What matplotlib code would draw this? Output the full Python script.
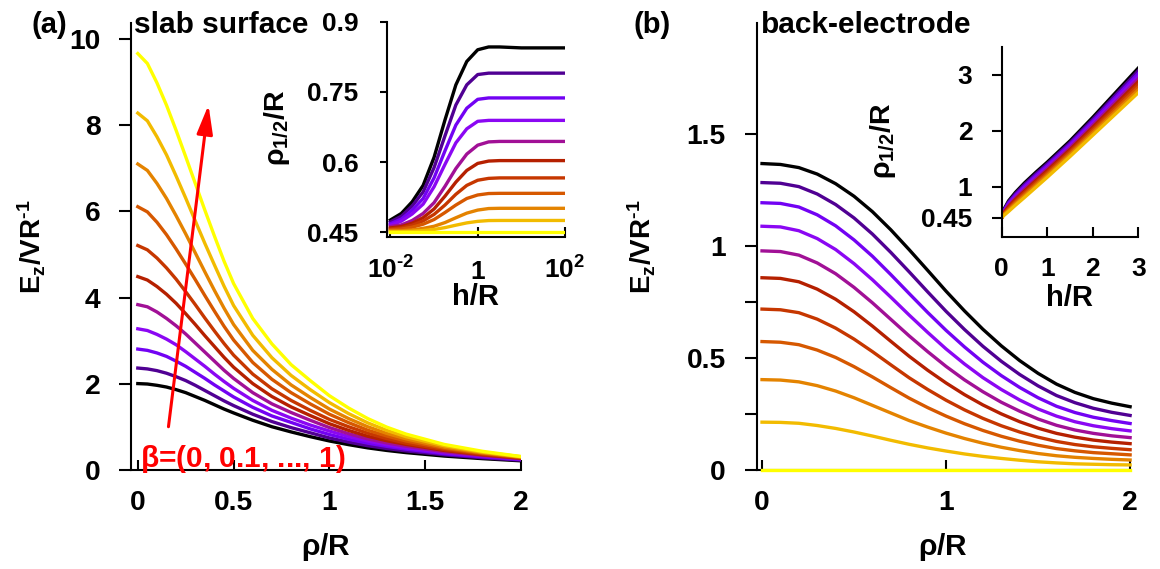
import matplotlib
matplotlib.use("Agg")
import matplotlib.pyplot as plt

plt.rcParams.update({
    "font.family": ["Liberation Sans", "DejaVu Sans"],
    "font.weight": "bold",
    "mathtext.fontset": "custom",
    "mathtext.rm": "Liberation Sans",
    "mathtext.it": "Liberation Sans",
    "mathtext.bf": "Liberation Sans:bold",
})

betas = [0.0, 0.1, 0.2, 0.3, 0.4, 0.5, 0.6, 0.7, 0.8, 0.9, 1.0]

# (a) field at the slab surface
rho_a = [0, 0.05, 0.1, 0.15, 0.2, 0.25, 0.3, 0.35, 0.4, 0.45, 0.5, 0.6, 0.7,
         0.8, 0.9, 1.0, 1.1, 1.2, 1.3, 1.4, 1.6, 1.8, 2.0]
slab_b00 = [2.01, 2.00, 1.97, 1.93, 1.87, 1.80, 1.71, 1.62, 1.52, 1.42, 1.33, 1.16, 1.01,
            0.89, 0.78, 0.68, 0.595, 0.52, 0.46, 0.41, 0.33, 0.27, 0.22]
slab_b01 = [2.37, 2.35, 2.31, 2.25, 2.17, 2.08, 1.97, 1.85, 1.73, 1.61, 1.50, 1.30, 1.13,
            0.99, 0.87, 0.75, 0.655, 0.57, 0.505, 0.45, 0.36, 0.29, 0.235]
slab_b02 = [2.81, 2.78, 2.72, 2.64, 2.53, 2.41, 2.27, 2.13, 1.98, 1.84, 1.70, 1.46, 1.26,
            1.11, 0.96, 0.83, 0.72, 0.63, 0.555, 0.49, 0.385, 0.31, 0.25]
slab_b03 = [3.28, 3.24, 3.15, 3.04, 2.91, 2.75, 2.58, 2.41, 2.23, 2.06, 1.90, 1.62, 1.39,
            1.21, 1.05, 0.91, 0.785, 0.68, 0.59, 0.52, 0.41, 0.33, 0.26]
slab_b04 = [3.84, 3.79, 3.67, 3.52, 3.35, 3.16, 2.95, 2.74, 2.53, 2.32, 2.13, 1.80, 1.54,
            1.34, 1.16, 0.99, 0.85, 0.73, 0.635, 0.56, 0.43, 0.34, 0.27]
slab_b05 = [4.49, 4.41, 4.26, 4.08, 3.87, 3.63, 3.38, 3.12, 2.87, 2.62, 2.39, 2.01, 1.71,
            1.47, 1.27, 1.08, 0.925, 0.79, 0.685, 0.60, 0.46, 0.36, 0.28]
slab_b06 = [5.21, 5.11, 4.92, 4.69, 4.43, 4.14, 3.84, 3.53, 3.23, 2.94, 2.67, 2.23, 1.89,
            1.62, 1.39, 1.18, 1.01, 0.86, 0.735, 0.63, 0.48, 0.37, 0.29]
slab_b07 = [6.11, 5.99, 5.75, 5.46, 5.13, 4.78, 4.42, 4.05, 3.69, 3.34, 3.02, 2.50, 2.11,
            1.80, 1.54, 1.30, 1.105, 0.93, 0.795, 0.68, 0.51, 0.39, 0.30]
slab_b08 = [7.10, 6.95, 6.65, 6.30, 5.90, 5.48, 5.04, 4.60, 4.17, 3.76, 3.38, 2.78, 2.34,
            1.98, 1.69, 1.42, 1.20, 1.01, 0.855, 0.73, 0.535, 0.405, 0.305]
slab_b09 = [8.28, 8.10, 7.73, 7.31, 6.82, 6.31, 5.78, 5.26, 4.76, 4.27, 3.82, 3.13, 2.61,
            2.20, 1.87, 1.57, 1.315, 1.10, 0.925, 0.78, 0.57, 0.42, 0.315]
slab_b10 = [9.66, 9.43, 8.98, 8.46, 7.88, 7.27, 6.65, 6.03, 5.43, 4.85, 4.33, 3.52, 2.93,
            2.45, 2.08, 1.73, 1.445, 1.20, 1.00, 0.84, 0.60, 0.44, 0.32]

# (a) inset: half-width vs h
h_a = [0.01, 0.0178, 0.0316, 0.0562, 0.1, 0.178, 0.316, 0.562, 1.0, 1.78, 3.16, 10.0, 31.6, 100.0]
half_slab_b00 = [0.476, 0.49, 0.515, 0.55, 0.61, 0.69, 0.765, 0.815, 0.84, 0.846, 0.846, 0.844, 0.844, 0.844]
half_slab_b01 = [0.472, 0.484, 0.506, 0.536, 0.588, 0.656, 0.722, 0.765, 0.787, 0.79, 0.79, 0.79, 0.79, 0.79]
half_slab_b02 = [0.468, 0.478, 0.497, 0.522, 0.566, 0.624, 0.679, 0.715, 0.734, 0.737, 0.737, 0.737, 0.737, 0.737]
half_slab_b03 = [0.465, 0.4735, 0.489, 0.51, 0.547, 0.595, 0.641, 0.671, 0.687, 0.689, 0.689, 0.689, 0.689, 0.689]
half_slab_b04 = [0.462, 0.4655, 0.475, 0.49, 0.513, 0.548, 0.586, 0.617, 0.636, 0.643, 0.644, 0.644, 0.644, 0.644]
half_slab_b05 = [0.459, 0.462, 0.469, 0.481, 0.4996, 0.527, 0.557, 0.582, 0.597, 0.602, 0.603, 0.603, 0.603, 0.603]
half_slab_b06 = [0.457, 0.459, 0.465, 0.474, 0.488, 0.508, 0.531, 0.55, 0.561, 0.565, 0.566, 0.566, 0.566, 0.566]
half_slab_b07 = [0.455, 0.4565, 0.4606, 0.467, 0.477, 0.492, 0.508, 0.522, 0.5295, 0.5326, 0.533, 0.533, 0.533, 0.533]
half_slab_b08 = [0.453, 0.453, 0.4548, 0.4581, 0.4626, 0.4705, 0.4808, 0.4907, 0.4972, 0.5005, 0.501, 0.501, 0.501, 0.501]
half_slab_b09 = [0.451, 0.451, 0.4519, 0.4535, 0.4558, 0.4597, 0.4649, 0.4698, 0.4731, 0.4748, 0.475, 0.475, 0.475, 0.475]
half_slab_b10 = [0.45, 0.45, 0.45, 0.45, 0.45, 0.45, 0.45, 0.45, 0.45, 0.45, 0.45, 0.45, 0.45, 0.45]

# (b) field at the back-electrode
rho_b = [0, 0.1, 0.2, 0.3, 0.4, 0.5, 0.6, 0.7, 0.8, 0.9, 1.0,
         1.1, 1.2, 1.3, 1.4, 1.5, 1.6, 1.7, 1.8, 1.9, 2.0]
back_b00 = [1.37, 1.366, 1.352, 1.323, 1.28, 1.224, 1.155, 1.074, 0.985, 0.893, 0.80,
            0.712, 0.63, 0.556, 0.49, 0.433, 0.385, 0.348, 0.32, 0.30, 0.284]
back_b01 = [1.285, 1.282, 1.267, 1.234, 1.187, 1.127, 1.055, 0.973, 0.886, 0.797, 0.71,
            0.629, 0.554, 0.487, 0.428, 0.377, 0.334, 0.302, 0.277, 0.259, 0.245]
back_b02 = [1.195, 1.192, 1.176, 1.141, 1.092, 1.029, 0.956, 0.874, 0.789, 0.705, 0.625,
            0.551, 0.483, 0.423, 0.37, 0.324, 0.286, 0.258, 0.237, 0.222, 0.209]
back_b03 = [1.09, 1.087, 1.07, 1.035, 0.986, 0.923, 0.851, 0.773, 0.693, 0.616, 0.542,
            0.475, 0.414, 0.361, 0.314, 0.274, 0.242, 0.217, 0.199, 0.186, 0.176]
back_b04 = [0.98, 0.977, 0.961, 0.926, 0.878, 0.817, 0.748, 0.674, 0.60, 0.53, 0.464,
            0.404, 0.351, 0.304, 0.264, 0.229, 0.201, 0.18, 0.165, 0.154, 0.146]
back_b05 = [0.86, 0.857, 0.842, 0.809, 0.764, 0.708, 0.644, 0.576, 0.509, 0.447, 0.39,
            0.338, 0.292, 0.252, 0.217, 0.188, 0.165, 0.148, 0.135, 0.126, 0.119]
back_b06 = [0.72, 0.717, 0.704, 0.675, 0.635, 0.586, 0.53, 0.471, 0.413, 0.361, 0.313,
            0.27, 0.232, 0.199, 0.171, 0.148, 0.129, 0.115, 0.105, 0.098, 0.092]
back_b07 = [0.575, 0.572, 0.561, 0.537, 0.504, 0.463, 0.417, 0.369, 0.322, 0.28, 0.242,
            0.208, 0.178, 0.152, 0.13, 0.112, 0.097, 0.087, 0.079, 0.074, 0.069]
back_b08 = [0.405, 0.403, 0.395, 0.378, 0.354, 0.324, 0.29, 0.256, 0.222, 0.193, 0.166,
            0.142, 0.121, 0.103, 0.088, 0.075, 0.065, 0.058, 0.053, 0.049, 0.046]
back_b09 = [0.215, 0.214, 0.21, 0.20, 0.187, 0.171, 0.153, 0.134, 0.116, 0.10, 0.086,
            0.073, 0.062, 0.053, 0.045, 0.038, 0.033, 0.029, 0.027, 0.025, 0.024]
back_b10 = [0, 0, 0, 0, 0, 0, 0, 0, 0, 0, 0, 0, 0, 0, 0, 0, 0, 0, 0, 0, 0]

# (b) inset: half-width vs h
h_b = [0, 0.05, 0.15, 0.3, 0.5, 0.75, 1.0, 1.5, 2.0, 2.5, 3.0]
half_back_b00 = [0.45, 0.60, 0.75, 0.90, 1.07, 1.26, 1.44, 1.82, 2.24, 2.68, 3.12]
half_back_b01 = [0.45, 0.588, 0.729, 0.874, 1.041, 1.23, 1.41, 1.789, 2.204, 2.638, 3.071]
half_back_b02 = [0.45, 0.576, 0.708, 0.849, 1.012, 1.20, 1.38, 1.758, 2.169, 2.596, 3.022]
half_back_b03 = [0.45, 0.563, 0.687, 0.823, 0.983, 1.17, 1.35, 1.727, 2.133, 2.553, 2.973]
half_back_b04 = [0.45, 0.551, 0.666, 0.798, 0.954, 1.14, 1.32, 1.696, 2.098, 2.511, 2.925]
half_back_b05 = [0.45, 0.539, 0.644, 0.772, 0.925, 1.11, 1.29, 1.664, 2.062, 2.469, 2.876]
half_back_b06 = [0.45, 0.527, 0.623, 0.747, 0.897, 1.08, 1.26, 1.633, 2.027, 2.427, 2.827]
half_back_b07 = [0.45, 0.514, 0.602, 0.721, 0.868, 1.05, 1.23, 1.602, 1.991, 2.384, 2.778]
half_back_b08 = [0.45, 0.502, 0.581, 0.696, 0.839, 1.02, 1.20, 1.571, 1.956, 2.342, 2.729]
half_back_b09 = [0.45, 0.49, 0.56, 0.67, 0.81, 0.99, 1.17, 1.54, 1.92, 2.30, 2.68]

slab = [slab_b00, slab_b01, slab_b02, slab_b03, slab_b04, slab_b05,
        slab_b06, slab_b07, slab_b08, slab_b09, slab_b10]
half_slab = [half_slab_b00, half_slab_b01, half_slab_b02, half_slab_b03,
             half_slab_b04, half_slab_b05, half_slab_b06, half_slab_b07,
             half_slab_b08, half_slab_b09, half_slab_b10]
back = [back_b00, back_b01, back_b02, back_b03, back_b04, back_b05,
        back_b06, back_b07, back_b08, back_b09, back_b10]
half_back = [half_back_b00, half_back_b01, half_back_b02, half_back_b03,
             half_back_b04, half_back_b05, half_back_b06, half_back_b07,
             half_back_b08, half_back_b09]

W, H = 1160, 569
cmap = plt.get_cmap("gnuplot")
LW = 2.4


def box(x0, x1, y0, y1):
    # pixel box (top y0, bottom y1) -> figure fraction rect
    return [x0 / W, 1 - y1 / H, (x1 - x0) / W, (y1 - y0) / H]


def style(ax, xlen, ylen, size, xpad, ypad):
    for s in ("top", "right"):
        ax.spines[s].set_visible(False)
    for s in ("left", "bottom"):
        ax.spines[s].set_linewidth(1.5)
    ax.tick_params(axis="x", direction="in", length=xlen, width=1.5,
                   labelsize=size, pad=xpad, top=False)
    ax.tick_params(axis="y", direction="out", length=ylen, width=1.5,
                   labelsize=size, pad=ypad, right=False)
    ax.patch.set_visible(False)


def ftext(x, y, s, **kw):
    fig.text(x / W, 1 - y / H, s, **kw)


fig = plt.figure(figsize=(W / 100, H / 100), dpi=100)

ax_a = fig.add_axes(box(131.3, 520.9, 22.5, 470.3))
ins_a = fig.add_axes(box(386.7, 565.0, 21.7, 237.3))
ax_b = fig.add_axes(box(756.5, 1130.1, 22.5, 470.3))
ins_b = fig.add_axes(box(1001.7, 1138.3, 46.7, 237.3))

# panel (a)
for b, ez in zip(betas, slab):
    ax_a.plot(rho_a, ez, color=cmap(b), lw=LW)
ax_a.set_xlim(-0.034, 2)
ax_a.set_ylim(0, 10.38)
ax_a.set_xticks([0, 0.5, 1, 1.5, 2], ["0", "0.5", "1", "1.5", "2"])
ax_a.set_yticks([0, 2, 4, 6, 8, 10])
style(ax_a, 7.2, 8.6, 20.3, 14.5, 13.5)
ax_a.annotate("", xy=(0.369, 8.47), xytext=(0.160, 1.01),
              arrowprops=dict(arrowstyle="-|>,head_length=0.8,head_width=0.22",
                              mutation_scale=22, color="red", lw=2.2,
                              shrinkA=0, shrinkB=0), zorder=5)
ax_a.text(0.0125, 0.083, r"$\beta$=(0, 0.1, ..., 1)", color="red",
          fontsize=21.5, ha="left", va="baseline", zorder=5)

for b, hv in zip(betas, half_slab):
    ins_a.plot(h_a, hv, color=cmap(b), lw=LW)
ins_a.set_xscale("log")
ins_a.set_xlim(0.00822, 100)
ins_a.set_ylim(0.439, 0.9)
ins_a.set_xticks([0.01, 1, 100],
                 ["10$^{\\mathbf{\u20102}}$", "1", "10$^{\\mathbf{2}}$"])
ins_a.minorticks_off()
ins_a.set_yticks([0.45, 0.6, 0.75, 0.9], ["0.45", "0.6", "0.75", "0.9"])
style(ins_a, 7.2, 5.0, 19, 30, 15.2)
for t in ins_a.get_xticklabels():
    t.set_va("baseline")

# panel (b)
for b, ez in zip(betas, back):
    ax_b.plot(rho_b, ez, color=cmap(b), lw=LW, clip_on=False, zorder=3)
ax_b.set_xlim(-0.03, 2)
ax_b.set_ylim(0, 2.0)
ax_b.set_xticks([0, 1, 2], ["0", "1", "2"])
ax_b.set_yticks([0, 0.25, 0.5, 0.75, 1, 1.5], ["0", "", "0.5", "", "1", "1.5"])
style(ax_b, 7.2, 8.6, 20.3, 14.5, 13.5)

for b, hv in zip(betas, half_back):
    ins_b.plot(h_b, hv, color=cmap(b), lw=LW)
ins_b.set_xlim(0, 3)
ins_b.set_ylim(0.1, 3.5)
ins_b.set_xticks([0, 1, 2, 3], ["0", "1", "2", "3"])
ins_b.set_yticks([0.45, 1, 2, 3], ["0.45", "1", "2", "3"])
style(ins_b, 7.2, 7.2, 19, 14.4, 14.0)

# labels
ftext(49, 25, "(a)", fontsize=21, ha="center", va="center")
ftext(652, 25, "(b)", fontsize=21, ha="center", va="center")
ftext(134, 33, "slab surface", fontsize=21.5, ha="left", va="baseline")
ftext(761, 33, "back-electrode", fontsize=21.5, ha="left", va="baseline")

ylab = "E$_{\\mathbf{z}}$/VR$^{\\mathbf{\u20101}}$"
ftext(32, 247, ylab, fontsize=20, rotation=90, ha="center", va="center")
ftext(642, 247, ylab, fontsize=20, rotation=90, ha="center", va="center")
ftext(326, 547, r"$\rho$/R", fontsize=21.5, ha="center", va="center")
ftext(943, 547, r"$\rho$/R", fontsize=21.5, ha="center", va="center")

hlab = r"$\rho_{\mathbf{1/2}}$/R"
ftext(277, 128, hlab, fontsize=20.5, rotation=90, ha="center", va="center")
ftext(883, 141, hlab, fontsize=20.5, rotation=90, ha="center", va="center")
ftext(476, 297, "h/R", fontsize=21, ha="center", va="center")
ftext(1070, 298, "h/R", fontsize=21, ha="center", va="center")

fig.savefig("out.png", dpi=100)
